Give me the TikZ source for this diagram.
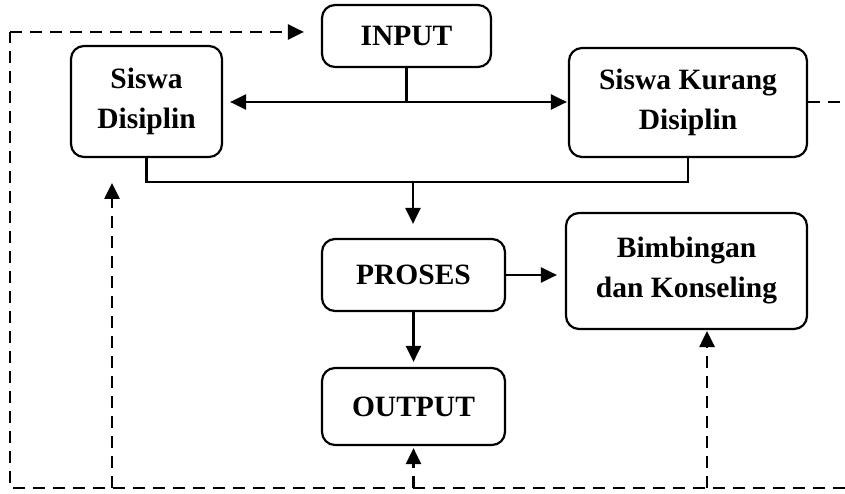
\documentclass[tikz,border=0pt]{standalone}
\usepackage{fontspec}
\setmainfont{Liberation Serif}
\usetikzlibrary{arrows.meta}
\begin{document}
\begin{tikzpicture}[x=1pt,y=-1pt,
  box/.style={draw, line width=2.2pt, rounded corners=13pt, inner sep=0pt, align=center,
    font=\fontsize{29.5}{40}\selectfont\bfseries},
  conn/.style={line width=2.5pt, -{Triangle[length=16pt,width=15pt]}},
  plain/.style={line width=2.5pt},
  dline/.style={line width=2.6pt, dash pattern=on 12pt off 8pt},
  darrow/.style={dline, -{Triangle[length=16pt,width=15pt]}}]
\useasboundingbox (0,0) rectangle (845,494);
\node[box, minimum width=169pt, minimum height=62pt] (input) at (406.5,36) {INPUT};
\node[box, minimum width=151pt, minimum height=111pt] (sd) at (146.5,101.5) {Siswa\\Disiplin};
\node[box, minimum width=238pt, minimum height=109pt] (skd) at (688,102.5) {Siswa Kurang\\Disiplin};
\node[box, minimum width=183pt, minimum height=72pt] (proses) at (413.5,275) {PROSES};
\node[box, minimum width=183pt, minimum height=77pt] (output) at (413.5,406.5) {OUTPUT};
\node[box, minimum width=241pt, minimum height=116pt] (bk) at (686.5,271) {Bimbingan\\dan Konseling};
% solid connectors
\coordinate (j1) at (406.5,102);
\draw[plain] (input.south) -- (j1);
\draw[conn, shorten >=7pt] (j1) -- (sd.east |- j1);
\draw[conn, shorten >=1pt] (j1) -- (skd.west |- j1);
\coordinate (j2) at (413,182);
\draw[plain] (sd.south) |- (j2) -| (skd.south);
\draw[conn, shorten >=14pt] (j2) -- (proses.north -| j2);
\draw[conn, shorten >=5pt] (proses.south) -- (output.north);
\draw[conn, shorten >=8pt] (proses.east) -- (bk.west |- proses.east);
% dashed feedback
\coordinate (bl) at (10,488);
\coordinate (br) at (845,488);
\coordinate (tl) at (10,32);
\coordinate (rt) at (845,102);
\draw[dline] (skd.east |- rt) -- (rt);
\draw[dline] (br) -- (bl) -- (tl);
\draw[darrow, shorten >=17pt] (tl) -- (input.west |- tl);
\coordinate (d1) at (112,488);
\coordinate (d1t) at (112,157);
\draw[darrow, shorten >=26pt] (d1) -- (d1t);
\coordinate (d2) at (413.5,488);
\draw[darrow, shorten >=2pt] (d2) -- (output.south);
\coordinate (d3) at (707,488);
\coordinate (d3t) at (707,329);
\draw[darrow, shorten >=2pt] (d3) -- (d3t);
\end{tikzpicture}
\end{document}
